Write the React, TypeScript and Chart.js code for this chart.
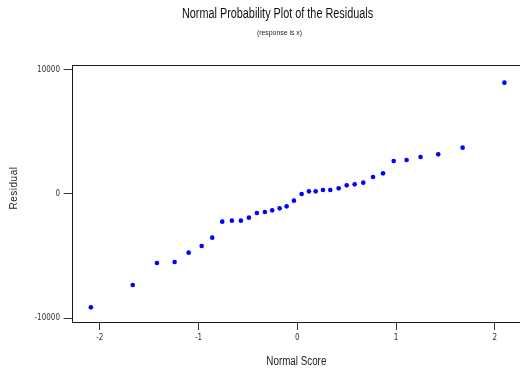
import React, { useEffect, useRef } from "react";
import { Chart, registerables } from "chart.js";

Chart.register(...registerables);

const chartTitle = "Normal Probability Plot of the Residuals";
const chartSubtitle = "(response is x)";
const xAxisTitle = "Normal Score";
const yAxisTitle = "Residual";

const normalScores = [
  -2.09, -1.666, -1.421, -1.242, -1.1, -0.968, -0.861, -0.76, -0.662, -0.571,
  -0.49, -0.409, -0.328, -0.254, -0.179, -0.108, -0.034, 0.044, 0.118, 0.186,
  0.26, 0.334, 0.419, 0.5, 0.581, 0.668, 0.767, 0.868, 0.976, 1.107, 1.248,
  1.427, 1.674, 2.097,
];
const residuals = [
  -9123, -7321, -5551, -5471, -4722, -4183, -3516, -2228, -2148, -2148,
  -1907, -1529, -1448, -1319, -1158, -998, -539, 0, 209, 209,
  322, 322, 451, 692, 772, 909, 1368, 1657, 2655, 2735, 2977,
  3186, 3725, 8954,
];
const xTickValues = [-2, -1, 0, 1, 2];
const yTickValues = [-10000, 0, 10000];

const NARROW = '"Liberation Sans Narrow", "DejaVu Sans Condensed", "Liberation Sans", Arial, sans-serif';
const REGULAR = '"Liberation Sans", Arial, sans-serif';

function drawText(
  ctx: CanvasRenderingContext2D,
  text: string,
  x: number,
  y: number,
  size: number,
  scaleX: number,
  rotate: number,
  color: string,
  spacing = 0
) {
  ctx.save();
  ctx.translate(x, y);
  if (rotate) ctx.rotate(rotate);
  ctx.scale(scaleX, 1);
  ctx.font = `normal ${size}px ${REGULAR}`;
  (ctx as any).letterSpacing = `${spacing}px`;
  ctx.fillStyle = color;
  ctx.textAlign = "center";
  ctx.textBaseline = "middle";
  ctx.fillText(text, 0, 0);
  ctx.restore();
}

const decorations = {
  id: "decorations",
  afterDraw(chart: any) {
    const { ctx, chartArea } = chart;
    ctx.save();
    ctx.strokeStyle = "#1a1a1a";
    ctx.lineWidth = 1;
    const y = Math.round(chartArea.top) + 0.5;
    ctx.beginPath();
    ctx.moveTo(chartArea.left, y);
    ctx.lineTo(chartArea.right, y);
    ctx.stroke();
    ctx.restore();

    drawText(ctx, chartTitle, 277.5, 14, 14, 0.775, 0, "#111");
    drawText(ctx, chartSubtitle, 279.5, 33, 8, 0.86, 0, "#222");
    drawText(ctx, xAxisTitle, (chartArea.left + chartArea.right) / 2, 362, 12.5, 0.785, 0, "#222");
    drawText(ctx, yAxisTitle, 14, 188, 10, 1, -Math.PI / 2, "#222", 0.5);
  },
};

export default function App() {
  const ref = useRef<HTMLCanvasElement | null>(null);

  useEffect(() => {
    if (!ref.current) return;
    const points = normalScores.map((x, i) => ({ x, y: residuals[i] }));
    const chart = new Chart(ref.current, {
      type: "scatter",
      data: {
        datasets: [
          {
            data: points,
            backgroundColor: "#0000ff",
            borderColor: "#0000ff",
            borderWidth: 0,
            pointRadius: 2.3,
            pointHoverRadius: 2.3,
          },
        ],
      },
      plugins: [decorations],
      options: {
        animation: false,
        responsive: false,
        devicePixelRatio: 1,
        layout: { autoPadding: false, padding: { left: 35, right: 0, top: 65.3, bottom: 0 } },
        plugins: {
          legend: { display: false },
          tooltip: { enabled: false },
          title: { display: false },
        },
        scales: {
          x: {
            type: "linear",
            min: -2.274,
            max: 2.255,
            afterBuildTicks: (scale: any) => {
              scale.ticks = xTickValues.map((v) => ({ value: v }));
            },
            afterFit: (scale: any) => {
              scale.height = 50;
            },
            grid: {
              drawOnChartArea: false,
              drawTicks: true,
              tickLength: 8,
              color: "#333",
              lineWidth: 1,
            },
            border: { display: true, color: "#1a1a1a", width: 1 },
            ticks: {
              color: "#333",
              padding: 3,
              font: { family: NARROW, size: 8 },
              callback: (v: any) => String(v),
            },
          },
          y: {
            type: "linear",
            min: -10300,
            max: 10350,
            afterBuildTicks: (scale: any) => {
              scale.ticks = yTickValues.map((v) => ({ value: v }));
            },
            afterFit: (scale: any) => {
              scale.width = 37.7;
            },
            grid: {
              drawOnChartArea: false,
              drawTicks: true,
              tickLength: 9,
              color: "#333",
              lineWidth: 1,
            },
            border: { display: true, color: "#1a1a1a", width: 1 },
            ticks: {
              color: "#333",
              padding: 3.7,
              font: { family: NARROW, size: 8 },
              callback: (v: any) => String(v),
            },
          },
        },
      },
    });
    return () => chart.destroy();
  }, []);

  return (
    <div style={{ position: "fixed", left: 0, top: 0, width: 520, height: 372, background: "#fff" }}>
      <canvas ref={ref} width={520} height={372} style={{ display: "block", width: 520, height: 372 }} />
    </div>
  );
}
